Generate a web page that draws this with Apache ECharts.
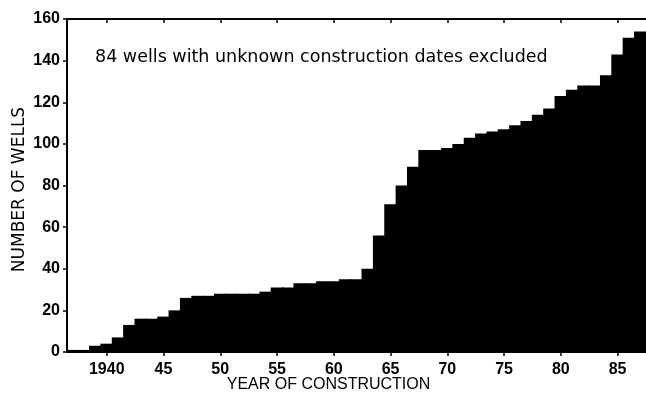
<!DOCTYPE html>
<html>
<head>
<meta charset="utf-8">
<script src="https://cdn.jsdelivr.net/npm/echarts@6/dist/echarts.min.js"></script>
<style>
html,body{margin:0;padding:0;background:#fff;}
#chart{width:646px;height:407px;}
</style>
</head>
<body>
<div id="chart"></div>
<script>
var years = [1937,1938,1939,1940,1941,1942,1943,1944,1945,1946,1947,1948,1949,1950,
  1951,1952,1953,1954,1955,1956,1957,1958,1959,1960,1961,1962,1963,1964,1965,1966,
  1967,1968,1969,1970,1971,1972,1973,1974,1975,1976,1977,1978,1979,1980,1981,1982,
  1983,1984,1985,1986,1987];
var wells = [1,1,3,4,7,13,16,16,17,20,26,27,27,28,
  28,28,28,29,31,31,33,33,34,34,35,35,40,56,71,80,
  89,97,97,98,100,103,105,106,107,109,111,114,117,123,126,128,
  128,133,143,151,154];
var yTicks = {min:0, max:160, step:20};
var labelYears = [1940,1945,1950,1955,1960,1965,1970,1975,1980,1985];
var note = '84 wells with unknown construction dates excluded';
var xTitle = 'YEAR OF CONSTRUCTION';
var yTitle = 'NUMBER OF WELLS';

var TICKFONT = 'Liberation Sans';
function isLabelYear(idx){ return labelYears.indexOf(years[idx]) >= 0; }
var chart = echarts.init(document.getElementById('chart'), null, {renderer:'canvas'});
chart.setOption({
  animation:false,
  backgroundColor:'#fff',
  grid:{left:67, top:19, width:587, height:333, containLabel:false},
  xAxis:[{
    type:'category', data:years, position:'bottom',
    boundaryGap:true,
    axisLine:{show:true, lineStyle:{color:'#000', width:2}},
    axisTick:{show:true, alignWithLabel:true, length:4, interval:function(i){return isLabelYear(i);}, lineStyle:{color:'#000', width:1.5}},
    axisLabel:{interval:function(i){return isLabelYear(i);}, margin:10, color:'#000', fontFamily:TICKFONT, fontWeight:'bold', fontSize:16,
      formatter:function(v){ var n=+v; return n===1940 ? '1940' : String(n%100); }},
    name:xTitle, nameLocation:'middle', nameGap:25, nameMoveOverlap:false,
    nameTextStyle:{color:'#000', fontFamily:'Liberation Sans', fontSize:16, padding:[0,56,0,0]}
  },{
    type:'category', data:years, position:'top',
    boundaryGap:true,
    axisLine:{show:true, lineStyle:{color:'#000', width:2}},
    axisTick:{show:true, inside:true, alignWithLabel:true, length:4, interval:function(i){return isLabelYear(i);}, lineStyle:{color:'#000', width:1.5}},
    axisLabel:{show:false}
  }],
  yAxis:{
    type:'value', min:yTicks.min, max:yTicks.max, interval:yTicks.step,
    axisLine:{show:true, lineStyle:{color:'#000', width:2}},
    axisTick:{show:true, length:4, lineStyle:{color:'#000', width:1.5}},
    splitLine:{show:false},
    axisLabel:{margin:7, color:'#000', fontFamily:TICKFONT, fontWeight:'bold', fontSize:16},
    name:yTitle, nameLocation:'middle', nameGap:39, nameMoveOverlap:false,
    nameTextStyle:{color:'#000', fontFamily:'DejaVu Sans', fontSize:17, padding:[0,8,0,0]}
  },
  graphic:[{
    type:'text', left:95, top:48,
    style:{text:note, fill:'#000', font:'17.5px "DejaVu Sans"'}
  }],
  series:[{
    type:'bar', data:wells, xAxisIndex:0,
    barWidth:12.6, barGap:'-100%',
    itemStyle:{color:'#000'}, silent:true
  }]
});
</script>
</body>
</html>
